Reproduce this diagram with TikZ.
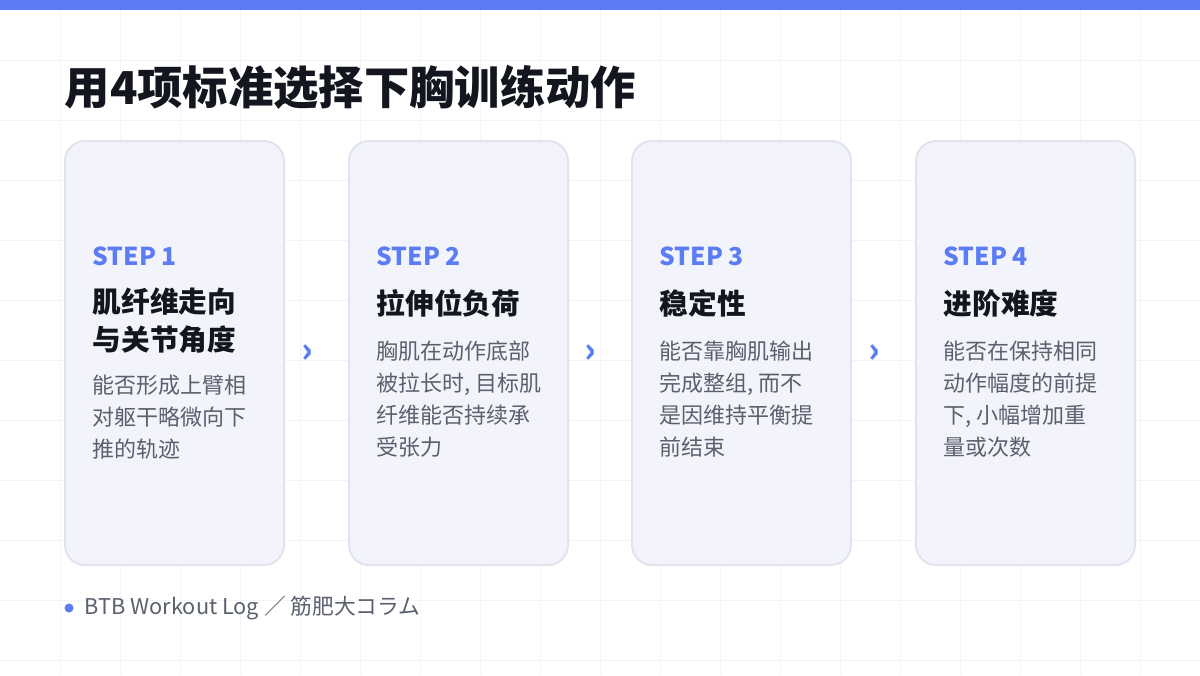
\documentclass[tikz,border=0pt]{standalone}
\usepackage{fontspec}
\setmainfont{Noto Sans CJK SC}
\definecolor{accent}{HTML}{5B7CF5}
\definecolor{cardfill}{HTML}{F3F4FB}
\definecolor{cardline}{HTML}{E1E4EF}
\definecolor{ink}{HTML}{14161F}
\definecolor{body}{HTML}{5B606E}
\definecolor{gridc}{HTML}{F3F4F7}
\begin{document}
\begin{tikzpicture}[x=0.75pt,y=-0.75pt,
  card/.style={draw=cardline,line width=1.5pt,fill=cardfill,rounded corners=15pt},
  steplbl/.style={anchor=west,text=accent,font=\fontsize{18.5}{20}\selectfont\bfseries},
  ttl/.style={anchor=north west,text=ink,font=\fontsize{21.5}{28.5}\selectfont\bfseries,align=left},
  bod/.style={anchor=north west,text=body,font=\fontsize{16.5}{24}\selectfont,align=left},
  arr/.style={text=accent,font=\fontsize{26}{26}\selectfont\bfseries}]
\useasboundingbox (0,0) rectangle (1200,675);
\fill[white] (0,0) rectangle (1200,675);
\foreach \i in {1,...,19} \draw[gridc,line width=0.6pt] (\i*60,10) -- (\i*60,675);
\foreach \j in {1,...,11} \draw[gridc,line width=0.6pt] (0,\j*60) -- (1200,\j*60);
\fill[accent] (0,0) rectangle (1200,10);
\node[anchor=west,text=ink,font=\fontsize{34}{36}\selectfont\bfseries] (title) at (60,87) {用4项标准选择下胸训练动作};
\foreach \n/\x in {1/65,2/349,3/632,4/916}{
  \path[card] (\x,141) rectangle (\x+219,565);
  \node[steplbl] (s\n) at (\x+23,256) {STEP \n};
}
\node[ttl] (t1) at (88,283) {肌纤维走向\\与关节角度};
\node[bod] (b1) at (88,370) {能否形成上臂相\\对躯干略微向下\\推的轨迹};
\node[ttl] (t2) at (372,285) {拉伸位负荷};
\node[bod] (b2) at (372,336) {胸肌在动作底部\\被拉长时, 目标肌\\纤维能否持续承\\受张力};
\node[ttl] (t3) at (655,285) {稳定性};
\node[bod] (b3) at (655,336) {能否靠胸肌输出\\完成整组, 而不\\是因维持平衡提\\前结束};
\node[ttl] (t4) at (939,285) {进阶难度};
\node[bod] (b4) at (939,336) {能否在保持相同\\动作幅度的前提\\下, 小幅增加重\\量或次数};
\node[arr] (a1) at (307,354) {›};
\node[arr] (a2) at (590,354) {›};
\node[arr] (a3) at (874,354) {›};
\fill[accent] (69,608) circle (4.5);
\node[anchor=west,text=body,font=\fontsize{16.3}{18}\selectfont] (foot) at (80,608) {BTB Workout Log ／ 筋肥大コラム};
\end{tikzpicture}
\end{document}
